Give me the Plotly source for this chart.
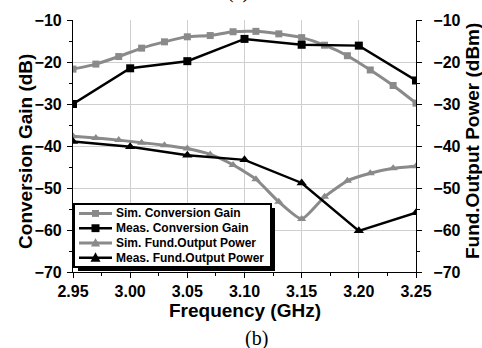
import plotly.graph_objects as go

# ---- data ----
sim_freq = [2.95, 2.97, 2.99, 3.01, 3.03, 3.05, 3.07, 3.09, 3.11, 3.13, 3.15, 3.17, 3.19, 3.21, 3.23, 3.25]
sim_cg = [-21.7, -20.5, -18.7, -16.7, -15.2, -14.0, -13.7, -12.8, -12.7, -13.3, -14.2, -16.0, -18.5, -21.9, -25.6, -29.8]
sim_fund = [-37.7, -38.1, -38.6, -39.2, -39.8, -40.6, -42.0, -44.5, -47.9, -53.3, -57.4, -52.1, -48.3, -46.5, -45.3, -44.8]

meas_freq = [2.95, 3.00, 3.05, 3.10, 3.15, 3.20, 3.25]
meas_cg = [-30.0, -21.5, -19.8, -14.5, -15.9, -16.1, -24.4]
meas_fund = [-38.9, -40.2, -42.2, -43.3, -48.8, -60.2, -55.9]

x_ticks = [2.95, 3.00, 3.05, 3.10, 3.15, 3.20, 3.25]
x_tick_labels = ["2.95", "3.00", "3.05", "3.10", "3.15", "3.20", "3.25"]
y_ticks = [-10, -20, -30, -40, -50, -60, -70]

legend_names = ["Sim. Conversion Gain", "Meas. Conversion Gain",
                "Sim. Fund.Output Power", "Meas. Fund.Output Power"]

GRAY = "#8a8a8a"
FONT = "Liberation Sans, Arial, sans-serif"

# plot area in pixels
L, R, T, B = 73, 416, 16, 272
W, H = R - L, B - T


def px(x):
    return (x - L) / W


def py(y):
    return (B - y) / H


series = [
    dict(x=sim_freq, y=sim_cg, color=GRAY, width=3, spline=True, symbol="square", size=7, yaxis="y"),
    dict(x=meas_freq, y=meas_cg, color="black", width=2.5, spline=False, symbol="square", size=8, yaxis="y"),
    dict(x=sim_freq, y=sim_fund, color=GRAY, width=3, spline=True, symbol="triangle-up", size=8, yaxis="y2"),
    dict(x=meas_freq, y=meas_fund, color="black", width=2.5, spline=False, symbol="triangle-up", size=9, yaxis="y2"),
]

fig = go.Figure()
for s, name in zip(series, legend_names):
    line = dict(color=s["color"], width=s["width"])
    if s["spline"]:
        line.update(shape="spline", smoothing=0.5)
    fig.add_trace(go.Scatter(x=s["x"], y=s["y"], name=name, mode="lines+markers", line=line,
                             marker=dict(symbol=s["symbol"], size=s["size"], color=s["color"]),
                             yaxis=s["yaxis"], showlegend=False))

axis_common = dict(showline=True, linecolor="black", linewidth=1.2,
                   tickfont=dict(family=FONT, size=16, color="black", weight="bold"))

fig.update_layout(
    width=482, height=348,
    margin=dict(l=L, r=482 - R, t=T, b=348 - B),
    paper_bgcolor="white", plot_bgcolor="white",
    showlegend=False,
    xaxis=dict(range=[2.95, 3.25], tickvals=x_ticks, ticktext=x_tick_labels,
               ticks="outside", ticklen=5, tickcolor="black",
               minor=dict(dtick=0.025, tick0=2.95, ticks="outside", ticklen=3, tickcolor="black", showgrid=False),
               showgrid=True, gridcolor="#cfcfcf", gridwidth=1, zeroline=False, mirror=False,
               **axis_common),
    xaxis2=dict(range=[2.95, 3.25], overlaying="x", side="top", tickvals=x_ticks, showticklabels=False,
                ticks="inside", ticklen=4, tickcolor="black", showgrid=False, showline=True,
                linecolor="black", linewidth=1.2,
                minor=dict(dtick=0.025, tick0=2.95, ticks="inside", ticklen=4, tickcolor="black")),
    yaxis=dict(range=[-70, -10], tickvals=y_ticks, ticks="outside", ticklen=5, tickcolor="black",
               minor=dict(dtick=5, ticks="outside", ticklen=3, tickcolor="black", showgrid=False),
               showgrid=True, gridcolor="#cfcfcf", gridwidth=1, zeroline=False,
               ticklabelstandoff=2, **axis_common),
    yaxis2=dict(range=[-70, -10], tickvals=y_ticks, overlaying="y", side="right",
                ticks="outside", ticklen=5, tickcolor="black",
                minor=dict(dtick=5, ticks="outside", ticklen=3, tickcolor="black"),
                showgrid=False, zeroline=False, ticklabelstandoff=8, **axis_common),
)

# ---- hand-built legend (compact rows like the reference) ----
box_l, box_r, box_t, box_b = 74, 271, 203, 267
shadow = 4
fig.add_shape(type="rect", xref="paper", yref="paper",
              x0=px(box_l + shadow), x1=px(box_r + shadow), y0=py(box_b + shadow), y1=py(box_t + shadow),
              fillcolor="black", line=dict(width=0), layer="above")
fig.add_shape(type="rect", xref="paper", yref="paper",
              x0=px(box_l), x1=px(box_r), y0=py(box_b), y1=py(box_t),
              fillcolor="white", line=dict(color="black", width=2), layer="above")

row_y0, row_dy = 212.5, 15
ln_x0, ln_x1 = 79, 112
for i, (s, name) in enumerate(zip(series, legend_names)):
    yy = row_y0 + i * row_dy
    fig.add_shape(type="line", xref="paper", yref="paper", x0=px(ln_x0), x1=px(ln_x1), y0=py(yy), y1=py(yy),
                  line=dict(color=s["color"], width=s["width"]), layer="above")
    cx = (ln_x0 + ln_x1) / 2
    if s["symbol"] == "square":
        h = s["size"] / 2
        fig.add_shape(type="rect", xref="paper", yref="paper", x0=px(cx - h), x1=px(cx + h),
                      y0=py(yy + h), y1=py(yy - h), fillcolor=s["color"], line=dict(width=0), layer="above")
    else:
        h = s["size"] / 2 + 0.5
        path = "M {} {} L {} {} L {} {} Z".format(px(cx - h), py(yy + h * 0.8), px(cx + h), py(yy + h * 0.8),
                                                  px(cx), py(yy - h * 1.1))
        fig.add_shape(type="path", xref="paper", yref="paper", path=path,
                      fillcolor=s["color"], line=dict(width=0), layer="above")
    fig.add_annotation(text="<b>" + name + "</b>", xref="paper", yref="paper", x=px(114), y=py(yy),
                       xanchor="left", yanchor="middle", showarrow=False,
                       font=dict(family=FONT, size=12, color="black"))

fig.add_annotation(text="<b>Frequency (GHz)</b>", xref="paper", yref="paper", x=0.5, y=py(311.5),
                   showarrow=False, font=dict(family=FONT, size=19, color="black"), xanchor="center", yanchor="middle")
fig.add_annotation(text="<b>Conversion Gain (dB)</b>", xref="paper", yref="paper", x=px(26), y=py(150),
                   showarrow=False, textangle=-90, font=dict(family=FONT, size=19, color="black"),
                   xanchor="center", yanchor="middle")
fig.add_annotation(text="<b>Fund.Output Power (dBm)</b>", xref="paper", yref="paper", x=px(472), y=py(139),
                   showarrow=False, textangle=-90, font=dict(family=FONT, size=19, color="black"),
                   xanchor="center", yanchor="middle")
fig.add_annotation(text="(b)", xref="paper", yref="paper", x=px(256), y=py(340),
                   showarrow=False, font=dict(family="Liberation Serif, Times New Roman, serif", size=20, color="black"),
                   xanchor="center", yanchor="middle")
fig.add_annotation(text="(a)", xref="paper", yref="paper", x=px(238), y=py(-13),
                   showarrow=False, font=dict(family="Liberation Serif, Times New Roman, serif", size=20, color="black"),
                   xanchor="center", yanchor="middle")

fig.write_html("out.html")
